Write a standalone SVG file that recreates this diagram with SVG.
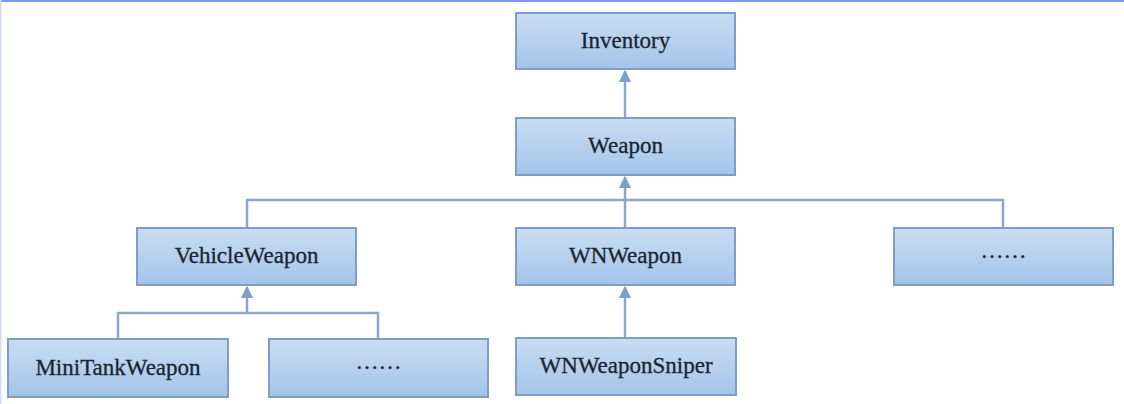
<svg xmlns="http://www.w3.org/2000/svg" width="1124" height="404" viewBox="0 0 1124 404">
<defs>
<linearGradient id="g" x1="0" y1="0" x2="0" y2="1">
<stop offset="0" stop-color="#c9ddf3"/>
<stop offset="1" stop-color="#a3c4e8"/>
</linearGradient>
<marker id="arr" viewBox="0 0 10 10" refX="9" refY="5" markerWidth="5" markerHeight="5" orient="auto" markerUnits="strokeWidth">
<path d="M0,0 L10,5 L0,10 z" fill="#7f9fc4"/>
</marker>
<style>
.box{fill:url(#g);stroke:#7e9ec6;stroke-width:2}
.lbl{font-family:"Liberation Serif","Times New Roman",serif;font-size:23px;fill:#1a2433;stroke:#1a2433;stroke-width:0.3;text-anchor:middle;dominant-baseline:central}
.c{fill:none;stroke:#8aa6c8;stroke-width:2.5}
</style>
</defs>
<rect x="0" y="0" width="1124" height="404" fill="#ffffff"/>
<rect x="0" y="0" width="1124" height="2" fill="#7a9af2"/>
<rect x="0" y="0" width="1.5" height="404" fill="#cfdcf8"/>
<g id="connectors">
<path class="c" d="M625,118 L625,71" marker-end="url(#arr)"/>
<path class="c" d="M625,228 L625,177" marker-end="url(#arr)"/>
<path class="c" d="M247,228 L247,200 L1003,200 L1003,228"/>
<path class="c" d="M118,339 L118,313 L378,313 L378,339"/>
<path class="c" d="M247,313 L247,287" marker-end="url(#arr)"/>
<path class="c" d="M625,338 L625,287" marker-end="url(#arr)"/>
</g>
<g id="inventory"><rect class="box" x="516" y="13" width="219" height="56"/><text class="lbl" x="625.5" y="40">Inventory</text></g>
<g id="weapon"><rect class="box" x="516" y="118" width="219" height="57"/><text class="lbl" x="625.5" y="145">Weapon</text></g>
<g id="vehicleweapon"><rect class="box" x="137" y="228" width="219" height="57"/><text class="lbl" x="246.5" y="255">VehicleWeapon</text></g>
<g id="wnweapon"><rect class="box" x="516" y="228" width="219" height="57"/><text class="lbl" x="625.5" y="255">WNWeapon</text></g>
<g id="more1"><rect class="box" x="894" y="228" width="219" height="57"/><text class="lbl" x="1003.5" y="250">……</text></g>
<g id="minitankweapon"><rect class="box" x="8" y="339" width="220" height="58"/><text class="lbl" x="118" y="367">MiniTankWeapon</text></g>
<g id="more2"><rect class="box" x="269" y="339" width="219" height="58"/><text class="lbl" x="378.5" y="361">……</text></g>
<g id="wnweaponsniper"><rect class="box" x="516" y="338" width="220" height="57"/><text class="lbl" x="626" y="365">WNWeaponSniper</text></g>
</svg>
